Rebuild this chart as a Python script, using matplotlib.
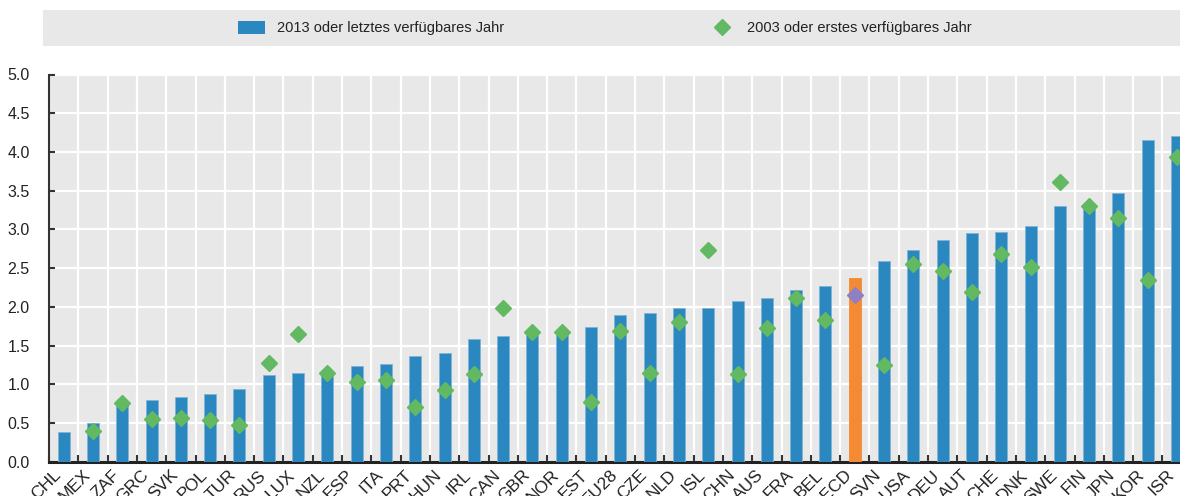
import matplotlib
matplotlib.use("Agg")
import matplotlib.pyplot as plt
from matplotlib.patches import Rectangle
from matplotlib.ticker import FixedLocator, MultipleLocator
from matplotlib.transforms import ScaledTranslation
import numpy as np

plt.rcParams['font.family'] = ['Liberation Sans Narrow', 'Liberation Sans', 'DejaVu Sans']

countries = ["CHL", "MEX", "ZAF", "GRC", "SVK", "POL", "TUR", "RUS", "LUX", "NZL",
             "ESP", "ITA", "PRT", "HUN", "IRL", "CAN", "GBR", "NOR", "EST", "EU28",
             "CZE", "NLD", "ISL", "CHN", "AUS", "FRA", "BEL", "OECD", "SVN", "USA",
             "DEU", "AUT", "CHE", "DNK", "SWE", "FIN", "JPN", "KOR", "ISR"]
val_2013 = [0.38, 0.50, 0.75, 0.80, 0.83, 0.87, 0.94, 1.12, 1.15, 1.16,
            1.24, 1.26, 1.37, 1.41, 1.58, 1.62, 1.63, 1.65, 1.74, 1.90,
            1.92, 1.98, 1.98, 2.07, 2.12, 2.22, 2.27, 2.37, 2.59, 2.73,
            2.86, 2.95, 2.96, 3.05, 3.30, 3.29, 3.47, 4.15, 4.21]
val_2003 = [np.nan, 0.39, 0.76, 0.55, 0.56, 0.54, 0.48, 1.28, 1.65, 1.15,
            1.03, 1.06, 0.70, 0.92, 1.13, 1.98, 1.67, 1.68, 0.77, 1.69,
            1.14, 1.81, 2.73, 1.13, 1.73, 2.11, 1.83, 2.15, 1.25, 2.55,
            2.46, 2.19, 2.68, 2.51, 3.61, 3.30, 3.15, 2.35, 3.94]
highlight = "OECD"
legend_labels = ["2013 oder letztes verfügbares Jahr", "2003 oder erstes verfügbares Jahr"]

blue = "#2a87c0"
orange = "#f58a35"
green = "#63b862"
purple = "#8f7fc4"
bg = "#e8e8e8"

W, H = 1180, 496
fig = plt.figure(figsize=(W / 100, H / 100), dpi=100)
left_px, right_px = 49, 1191.7
bottom_px, top_px = 461.7, 74.5
ax = fig.add_axes([left_px / W, 1 - bottom_px / H, (right_px - left_px) / W, (bottom_px - top_px) / H])
ax.set_facecolor(bg)

x = np.arange(len(countries))
colors = [orange if c == highlight else blue for c in countries]
bars = ax.bar(x, val_2013, width=0.41, color=colors, edgecolor="#7fb4d8", linewidth=0.6, zorder=3)
bars[countries.index(highlight)].set_edgecolor(orange)

v03 = np.array(val_2003, dtype=float)
mask = np.array([c != highlight for c in countries])
dia, = ax.plot(x[mask], v03[mask], linestyle="none", marker="D", markersize=8,
               color=green, zorder=4)
hi = countries.index(highlight)
ax.plot([x[hi]], [v03[hi]], linestyle="none", marker="D", markersize=8, color=purple, zorder=4)

ax.set_xlim(-0.5, len(countries) - 0.5)
ax.set_ylim(0, 5.0)
ax.yaxis.set_major_locator(MultipleLocator(0.5))
ax.set_yticklabels([f"{v:.1f}" for v in ax.get_yticks()])
ax.set_xticks(x)
ax.set_xticklabels(countries, rotation=45, ha="right", rotation_mode="default")
offset = ScaledTranslation(5 / 100, -2 / 100, fig.dpi_scale_trans)
for lbl in ax.get_xticklabels():
    lbl.set_transform(lbl.get_transform() + offset)
ax.xaxis.set_minor_locator(FixedLocator(np.arange(-0.5, len(countries), 1.0)))

ax.grid(True, which="major", axis="y", color="white", linewidth=1.6, zorder=1)
ax.grid(True, which="minor", axis="x", color="white", linewidth=1.6, zorder=1)
ax.set_axisbelow(True)

ax.tick_params(axis="x", which="major", length=0, pad=4, labelsize=12.5, labelcolor="#222222")
ax.tick_params(axis="x", which="minor", direction="in", length=5, width=1.5, color="#333333")
ax.tick_params(axis="y", direction="in", length=4, width=1.5, color="#333333", pad=14,
               labelsize=11.5, labelcolor="#222222")

for s in ["top", "right"]:
    ax.spines[s].set_visible(False)
ax.spines["left"].set_color("#333333")
ax.spines["left"].set_linewidth(1.5)
ax.spines["bottom"].set_color("#222222")
ax.spines["bottom"].set_linewidth(2.2)

# legend band
fig.patches.append(Rectangle((43 / W, 1 - 46 / H), 1.0, 36 / H, transform=fig.transFigure,
                             facecolor=bg, edgecolor="none", zorder=0))
legend_bar = Rectangle((0, 0), 1, 1, facecolor=blue)
leg = fig.legend([legend_bar, dia], legend_labels, loc="center", bbox_to_anchor=(605 / W, 1 - 28 / H),
                 ncol=2, frameon=False, fontsize=10.5, handlelength=1.85, handleheight=0.96,
                 handletextpad=0.8, columnspacing=14.0, labelcolor="#222222")

fig.savefig("out.png", dpi=100)
